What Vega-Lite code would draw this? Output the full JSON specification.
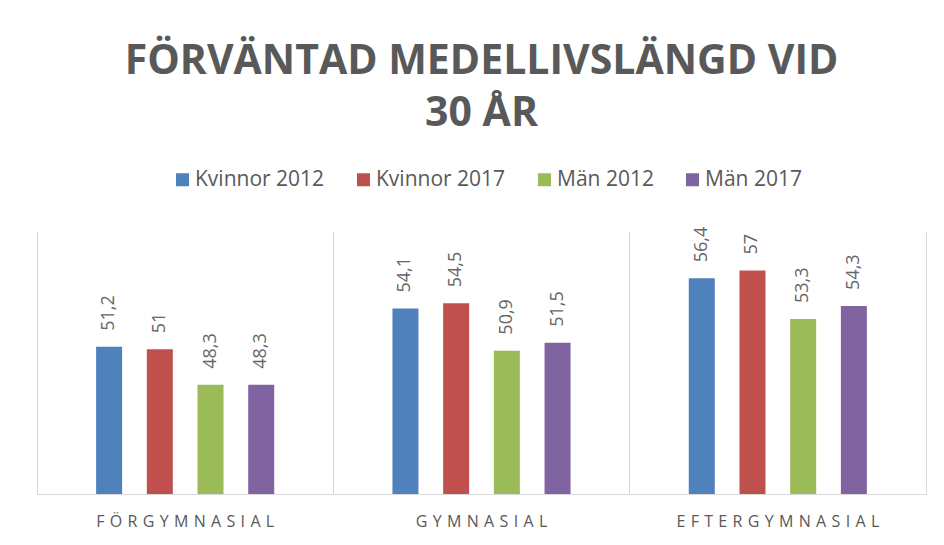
{
  "$schema": "https://vega.github.io/schema/vega-lite/v6.json",
  "width": 889,
  "height": 263,
  "autosize": "none",
  "padding": {"left": 37, "top": 231, "right": 18, "bottom": 51},
  "background": "white",
  "config": {
    "locale": {"number": {"decimal": ",", "thousands": " ", "grouping": [3], "currency": ["", " kr"]}},
    "view": {"stroke": null},
    "font": "Open Sans"
  },
  "title": {
    "text": ["FÖRVÄNTAD MEDELLIVSLÄNGD VID", "30 ÅR"],
    "fontSize": 41,
    "fontWeight": "bold",
    "color": "#595959",
    "font": "Open Sans",
    "lineHeight": 52,
    "anchor": "middle",
    "offset": 34
  },
  "data": {
    "values": [
      {"utbildning": "FÖRGYMNASIAL", "serie": "Kvinnor 2012", "varde": 51.2},
      {"utbildning": "FÖRGYMNASIAL", "serie": "Kvinnor 2017", "varde": 51},
      {"utbildning": "FÖRGYMNASIAL", "serie": "Män 2012", "varde": 48.3},
      {"utbildning": "FÖRGYMNASIAL", "serie": "Män 2017", "varde": 48.3},
      {"utbildning": "GYMNASIAL", "serie": "Kvinnor 2012", "varde": 54.1},
      {"utbildning": "GYMNASIAL", "serie": "Kvinnor 2017", "varde": 54.5},
      {"utbildning": "GYMNASIAL", "serie": "Män 2012", "varde": 50.9},
      {"utbildning": "GYMNASIAL", "serie": "Män 2017", "varde": 51.5},
      {"utbildning": "EFTERGYMNASIAL", "serie": "Kvinnor 2012", "varde": 56.4},
      {"utbildning": "EFTERGYMNASIAL", "serie": "Kvinnor 2017", "varde": 57},
      {"utbildning": "EFTERGYMNASIAL", "serie": "Män 2012", "varde": 53.3},
      {"utbildning": "EFTERGYMNASIAL", "serie": "Män 2017", "varde": 54.3}
    ]
  },
  "encoding": {
    "x": {
      "field": "utbildning",
      "type": "nominal",
      "sort": ["FÖRGYMNASIAL", "GYMNASIAL", "EFTERGYMNASIAL"],
      "scale": {"paddingInner": 0, "paddingOuter": 0},
      "axis": {
        "title": null,
        "grid": true,
        "gridColor": "#d9d9d9",
        "gridWidth": 1,
        "bandPosition": 0,
        "ticks": false,
        "domainColor": "#d9d9d9",
        "labelExpr": "join(split(datum.label, ''), '\u2004')",
        "labelFontSize": 16,
        "labelFont": "Open Sans",
        "labelColor": "#595959",
        "labelPadding": 19,
        "labelAngle": 0,
        "labelLimit": 400
      }
    },
    "xOffset": {
      "field": "serie",
      "type": "nominal",
      "scale": {
        "domain": ["_v", "Kvinnor 2012", "Kvinnor 2017", "Män 2012", "Män 2017", "_h"],
        "paddingInner": 0.487,
        "paddingOuter": 0.166
      }
    },
    "y": {
      "field": "varde",
      "type": "quantitative",
      "scale": {"domain": [40, 60], "zero": false, "nice": false},
      "axis": {"orient": "right", "labels": false, "ticks": false, "grid": false, "title": null, "domainColor": "#d9d9d9"}
    }
  },
  "layer": [
    {
      "mark": {"type": "bar", "clip": true},
      "encoding": {
        "color": {
          "field": "serie",
          "type": "nominal",
          "scale": {
            "domain": ["Kvinnor 2012", "Kvinnor 2017", "Män 2012", "Män 2017"],
            "range": ["#4F81BD", "#C0504D", "#9BBB59", "#8064A2"]
          },
          "legend": {
            "title": null,
            "orient": "none",
            "direction": "horizontal",
            "legendX": 135,
            "legendY": -62,
            "symbolType": "square",
            "symbolSize": 169,
            "symbolStrokeWidth": 0,
            "labelFontSize": 21,
            "labelFont": "Open Sans",
            "labelColor": "#595959",
            "columnPadding": 28,
            "labelOffset": 2
          }
        }
      }
    },
    {
      "mark": {"type": "text", "angle": 270, "align": "left", "baseline": "middle", "dx": 16, "fontSize": 18, "font": "Open Sans", "color": "#666666"},
      "encoding": {
        "text": {"field": "varde", "type": "quantitative", "format": "~g"}
      }
    }
  ]
}
